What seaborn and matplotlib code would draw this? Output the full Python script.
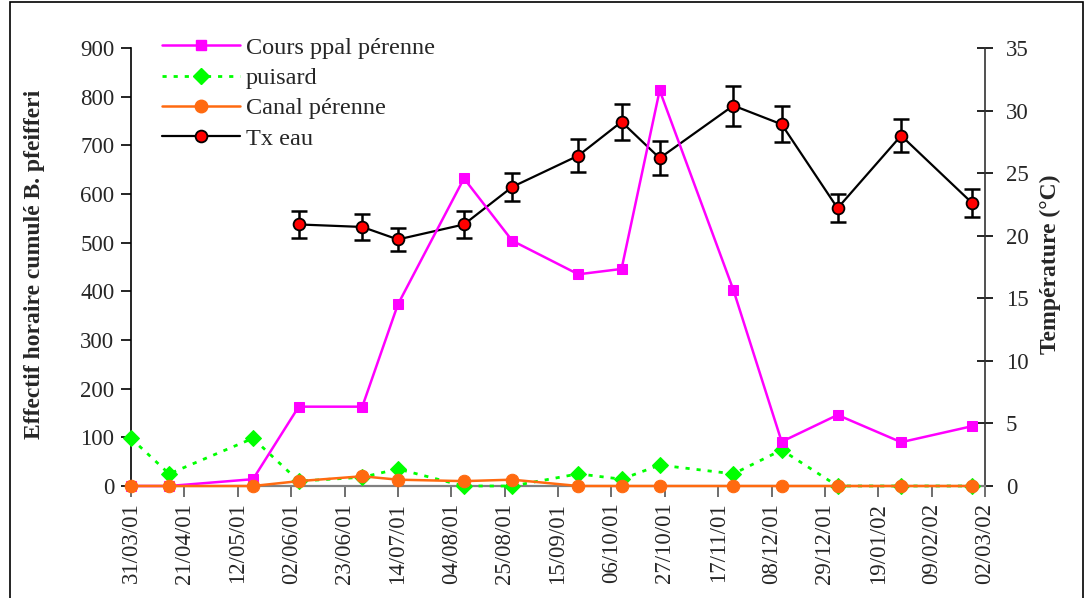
import matplotlib
matplotlib.use("Agg")
import matplotlib.pyplot as plt
import matplotlib.dates as mdates
from matplotlib.lines import Line2D
from matplotlib.patches import Rectangle
import numpy as np
import pandas as pd
import seaborn as sns

# Sampling dates and counts (cumulated hourly catches of B. pfeifferi)
sample_dates = ["2001-03-31", "2001-04-15", "2001-05-18", "2001-06-05", "2001-06-30",
                "2001-07-14", "2001-08-09", "2001-08-28", "2001-09-23", "2001-10-10",
                "2001-10-25", "2001-11-23", "2001-12-12", "2002-01-03", "2002-01-28",
                "2002-02-25"]
cours_ppal = [0, 0, 14, 163, 163, 373, 632, 504, 435, 446, 813, 403, 91, 146, 90, 123]
puisard = [98, 25, 98, 10, 18, 35, 0, 0, 25, 14, 43, 25, 74, 0, 0, 0]
canal = [0, 0, 0, 10, 20, 13, 10, 13, 0, 0, 0, 0, 0, 0, 0, 0]

# Water temperature (mean and spread)
temp_dates = sample_dates[3:]
tx_eau = [20.9, 20.7, 19.7, 20.9, 23.9, 26.4, 29.1, 26.2, 30.4, 28.9, 22.2, 28.0, 22.6]
tx_err = [1.05, 1.05, 0.95, 1.05, 1.1, 1.3, 1.45, 1.35, 1.6, 1.45, 1.1, 1.35, 1.1]

tick_start, tick_end, tick_step = "2001-03-31", "2002-03-02", 21

sns.set_theme(style="white")
plt.rcParams["font.family"] = ["Liberation Serif", "DejaVu Serif"]
plt.rcParams["axes.unicode_minus"] = False

counts = pd.DataFrame({
    "date": pd.to_datetime(sample_dates),
    "cours": cours_ppal,
    "puisard": puisard,
    "canal": canal,
})
temps = pd.DataFrame({"date": pd.to_datetime(temp_dates), "tx": tx_eau, "err": tx_err})

fig = plt.figure(figsize=(10.86, 5.98), dpi=100)
ax = fig.add_axes([131 / 1086, 1 - 486 / 598, (985 - 131) / 1086, (486 - 48) / 598])
ax2 = ax.twinx()

PINK, GREEN, ORANGE = "#ff00ff", "#00ff00", "#ff6a10"

sns.lineplot(data=counts, x="date", y="puisard", ax=ax, color=GREEN, lw=2,
             marker="D", markersize=8, markeredgecolor=GREEN, dashes=False,
             clip_on=False, zorder=3)
ax.lines[-1].set_dashes((1.5, 2.5))
sns.lineplot(data=counts, x="date", y="cours", ax=ax, color=PINK, lw=1.8,
             marker="s", markersize=7.5, markeredgecolor=PINK, clip_on=False, zorder=4)
sns.lineplot(data=counts, x="date", y="canal", ax=ax, color=ORANGE, lw=1.8,
             marker="o", markersize=9, markeredgecolor=ORANGE, clip_on=False, zorder=5)

ax2.errorbar(temps["date"], temps["tx"], yerr=temps["err"], fmt="none",
             ecolor="black", elinewidth=1.8, capsize=6, capthick=1.8, zorder=2)
sns.lineplot(data=temps, x="date", y="tx", ax=ax2, color="black", lw=1.6,
             marker="o", markersize=8.5, markerfacecolor="#ff0000",
             markeredgecolor="black", markeredgewidth=1.3, zorder=3)

# Axes limits and ticks
ax.set_ylim(0, 900)
ax.set_yticks(np.arange(0, 901, 100))
ax2.set_ylim(0, 35)
ax2.set_yticks(np.arange(0, 36, 5))
ticks = pd.date_range(tick_start, tick_end, freq=f"{tick_step}D")
ax.set_xlim(pd.Timestamp(tick_start), pd.Timestamp(tick_end))
ax.set_xticks(ticks)
ax.xaxis.set_major_formatter(mdates.DateFormatter("%d/%m/%y"))

fs = 16.5
ax.tick_params(axis="y", labelsize=fs, direction="out", length=7, width=1.2,
               color="black", pad=5, left=True)
ax.tick_params(axis="x", labelsize=fs, direction="out", length=8, width=1.2,
               color="#555555", pad=4, bottom=True, labelrotation=90)
ax2.tick_params(axis="y", labelsize=fs, direction="inout", length=12, width=1.2,
                color="black", pad=9, right=True)

for a in (ax, ax2):
    a.grid(False)
    a.spines["top"].set_visible(False)
ax.spines["left"].set_color("black")
ax.spines["left"].set_linewidth(1.2)
ax.spines["right"].set_visible(False)
ax.spines["bottom"].set_color("#808080")
ax.spines["bottom"].set_linewidth(1.6)
ax2.spines["left"].set_visible(False)
ax2.spines["bottom"].set_visible(False)
ax2.spines["right"].set_color("#333333")
ax2.spines["right"].set_linewidth(1.2)

ax.set_xlabel("")
ax.set_ylabel("Effectif horaire cumulé B. pfeifferi", fontsize=17, fontweight="bold")
ax.yaxis.set_label_coords(-0.101, 0.505)
ax2.set_ylabel("Température (°C)", fontsize=17, fontweight="bold")
ax2.yaxis.set_label_coords(1.0645, 0.506)

ax.set_zorder(ax2.get_zorder() + 1)
ax.patch.set_visible(False)

handles = [
    Line2D([], [], color=PINK, lw=1.8, marker="s", markersize=7.5, markeredgecolor=PINK),
    Line2D([], [], color=GREEN, lw=2, marker="D", markersize=8, dashes=(1.5, 2.5)),
    Line2D([], [], color=ORANGE, lw=1.8, marker="o", markersize=9),
    Line2D([], [], color="black", lw=1.6, marker="o", markersize=8.5,
           markerfacecolor="#ff0000", markeredgecolor="black", markeredgewidth=1.3),
]
labels = ["Cours ppal pérenne", "puisard", "Canal pérenne", "Tx eau"]
fig.legend(handles, labels, loc="upper left", bbox_to_anchor=(152 / 1086, 1 - 27 / 598),
           frameon=False, fontsize=17.5, handlelength=3.2, handletextpad=0.25,
           labelspacing=0.34, borderaxespad=0)

# Chart-area frame
fig.patches.append(Rectangle((10 / 1086, -0.05), (1083 - 10) / 1086, 1.05 - 2 / 598,
                             transform=fig.transFigure, fill=False, lw=1.2,
                             edgecolor="black"))

fig.savefig("out.png", dpi=100)
